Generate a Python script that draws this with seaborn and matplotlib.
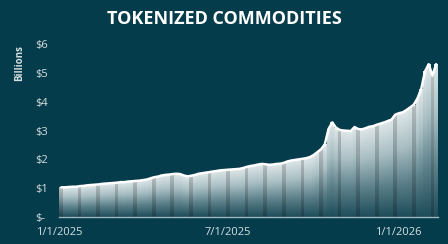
import numpy as np
import pandas as pd
import matplotlib
matplotlib.use("Agg")
import matplotlib.pyplot as plt
import matplotlib.dates as mdates
from matplotlib.colors import LinearSegmentedColormap
import seaborn as sns

# ---- data (billions USD), one reading every 4 days from 1/1/2025 ----
start_date = "2025-01-01"
step_days = 4
values = [
    1.03, 1.03, 1.04, 1.05, 1.05, 1.07, 1.08, 1.10, 1.11, 1.12,
    1.13, 1.15, 1.16, 1.17, 1.18, 1.19, 1.21, 1.21, 1.23, 1.24,
    1.25, 1.26, 1.28, 1.30, 1.34, 1.38, 1.40, 1.44, 1.46, 1.47,
    1.49, 1.50, 1.49, 1.44, 1.41, 1.43, 1.46, 1.50, 1.52, 1.54,
    1.56, 1.58, 1.60, 1.62, 1.63, 1.64, 1.65, 1.66, 1.67, 1.70,
    1.74, 1.77, 1.79, 1.82, 1.84, 1.83, 1.81, 1.82, 1.84, 1.85,
    1.88, 1.93, 1.96, 1.98, 2.00, 2.02, 2.04, 2.08, 2.15, 2.25,
    2.35, 2.52, 3.05, 3.28, 3.10, 3.02, 3.00, 2.99, 2.98, 3.12,
    3.05, 3.04, 3.08, 3.13, 3.15, 3.20, 3.24, 3.28, 3.33, 3.38,
    3.55, 3.60, 3.63, 3.71, 3.80, 3.90, 4.12, 4.45, 5.05, 5.30,
    4.90, 5.30,
]
title = "TOKENIZED COMMODITIES"
y_label = "Billions"
x_tick_dates = ["2025-01-01", "2025-07-01", "2026-01-01"]
x_tick_labels = ["1/1/2025", "7/1/2025", "1/1/2026"]
y_ticks = [0, 1, 2, 3, 4, 5, 6]
y_tick_labels = ["$-", "$1", "$2", "$3", "$4", "$5", "$6"]

# ---- styling ----
BG = "#043c4b"
TXT = "#d6dfe1"
AX = "#9fb6bc"

sns.set_theme(style="white")
plt.rcParams["font.family"] = ["Open Sans", "DejaVu Sans"]

dates = pd.date_range(start_date, periods=len(values), freq=f"{step_days}D")
df = pd.DataFrame({"date": dates, "value": values})

W, H = 448, 244
fig = plt.figure(figsize=(W / 100, H / 100), dpi=100, facecolor=BG)
ax = fig.add_axes([59 / W, (H - 217) / H, (438 - 59) / W, (217 - 44) / H])
ax.set_facecolor(BG)

x = mdates.date2num(df["date"])
vals = df["value"].to_numpy()

# bars (base shape)
ax.bar(x, vals, width=step_days, align="edge", color="#6f929b",
       linewidth=0, zorder=1)

# per-bar vertical gradient
cmap = LinearSegmentedColormap.from_list(
    "g", ["#1d4c59", "#5d818b", "#a9bfc4", "#dfe7e9"])
nrows = 600
ymax = 6.0
ycent = (np.arange(nrows) + 0.5) / nrows * ymax
t = ycent[:, None] / vals[None, :]
rgba = cmap(np.clip(t, 0, 1))
rgba[t > 1.0, 3] = 0.0
# faint darker seams every few bars, like the reference rendering
for i in range(0, len(vals), 5):
    rgba[:, i, :3] *= 0.82
extent = (x[0], x[-1] + step_days, 0, ymax)
ax.imshow(rgba, extent=extent, origin="lower", aspect="auto",
          interpolation="nearest", zorder=2)

# white line on top
sns.lineplot(x=x + step_days / 2, y=vals, ax=ax, color="white",
             linewidth=1.8, zorder=4)

ax.set_xlim(x[0] - 0.5, x[-1] + step_days)
ax.set_ylim(0, ymax)

for s in ["top", "right", "left"]:
    ax.spines[s].set_visible(False)
ax.spines["bottom"].set_color(AX)
ax.spines["bottom"].set_linewidth(1.0)
ax.spines["bottom"].set_zorder(5)

ax.set_xticks(mdates.date2num(pd.to_datetime(x_tick_dates)))
ax.set_xticklabels(x_tick_labels, color=TXT, fontsize=8)
ax.tick_params(axis="x", length=3, width=1, color=AX, direction="out", pad=4)

ax.set_yticks(y_ticks)
ax.set_yticklabels(y_tick_labels, color=TXT, fontsize=8)
ax.tick_params(axis="y", length=0, pad=17)
for lab in ax.get_yticklabels():
    lab.set_horizontalalignment("left")

ax.set_xlabel("")
ax.set_ylabel("")
ax.grid(False)

fig.text(20 / W, 1 - 63 / H, y_label, rotation=90, ha="center", va="center",
         color=TXT, fontsize=7, fontweight="bold")
fig.text(0.5, 1 - 19 / H, title, ha="center", va="center", color="white",
         fontsize=13, fontweight="bold")

fig.savefig("out.png", dpi=100, facecolor=BG)
